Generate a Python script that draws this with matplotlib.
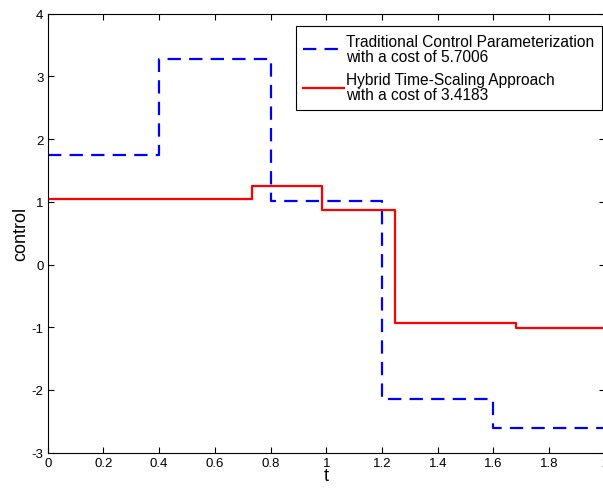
import matplotlib
matplotlib.use("Agg")
import matplotlib.pyplot as plt
import numpy as np

# switching times and control levels (piecewise constant)
t_tcp = [0.0, 0.4, 0.8, 1.2, 1.6, 2.0]
u_tcp = [1.75, 3.27, 1.02, -2.15, -2.61]

t_hts = [0.0, 0.735, 0.985, 1.245, 1.68, 2.0]
u_hts = [1.045, 1.26, 0.865, -0.935, -1.005]

x_ticks = [0, 0.2, 0.4, 0.6, 0.8, 1, 1.2, 1.4, 1.6, 1.8, 2]
y_ticks = [-3, -2, -1, 0, 1, 2, 3, 4]

plt.rcParams["font.family"] = ["Liberation Sans", "DejaVu Sans"]
plt.rcParams["axes.unicode_minus"] = False

fig = plt.figure(figsize=(6.03, 4.89), dpi=100)
ax = fig.add_axes([0.0791, 0.0724, 0.924, 0.8975])

ax.plot(t_tcp, u_tcp + [u_tcp[-1]], drawstyle="steps-post", color="blue",
        linestyle=(0, (6, 3.7)), linewidth=1.6,
        label="Traditional Control Parameterization\nwith a cost of 5.7006")
ax.plot(t_hts, u_hts + [u_hts[-1]], drawstyle="steps-post", color="red",
        linewidth=1.6,
        label="Hybrid Time-Scaling Approach\nwith a cost of 3.4183")

ax.set_xlim(0, 2)
ax.set_ylim(-3, 4)
ax.set_xticks(x_ticks)
ax.set_xticklabels([f"{v:g}" for v in x_ticks])
ax.set_yticks(y_ticks)
ax.set_yticklabels([f"{v:g}" for v in y_ticks])
ax.tick_params(direction="in", top=True, right=True, labelsize=9.5, length=4,
               width=0.8, pad=3)
for s in ax.spines.values():
    s.set_linewidth(0.8)
ax.set_xlabel("t", fontsize=13, labelpad=-1)
ax.set_ylabel("control", fontsize=13, labelpad=2)

leg = ax.legend(loc="upper right", bbox_to_anchor=(0.995, 0.972), borderaxespad=0,
                fontsize=11.2, handlelength=2.6, handletextpad=0.15,
                labelspacing=0.55, fancybox=False, edgecolor="black",
                framealpha=1, borderpad=0.5)
leg.get_frame().set_linewidth(0.8)
for txt in leg.get_texts():
    txt.set_linespacing(1.0)

fig.savefig("out.png", dpi=100)
